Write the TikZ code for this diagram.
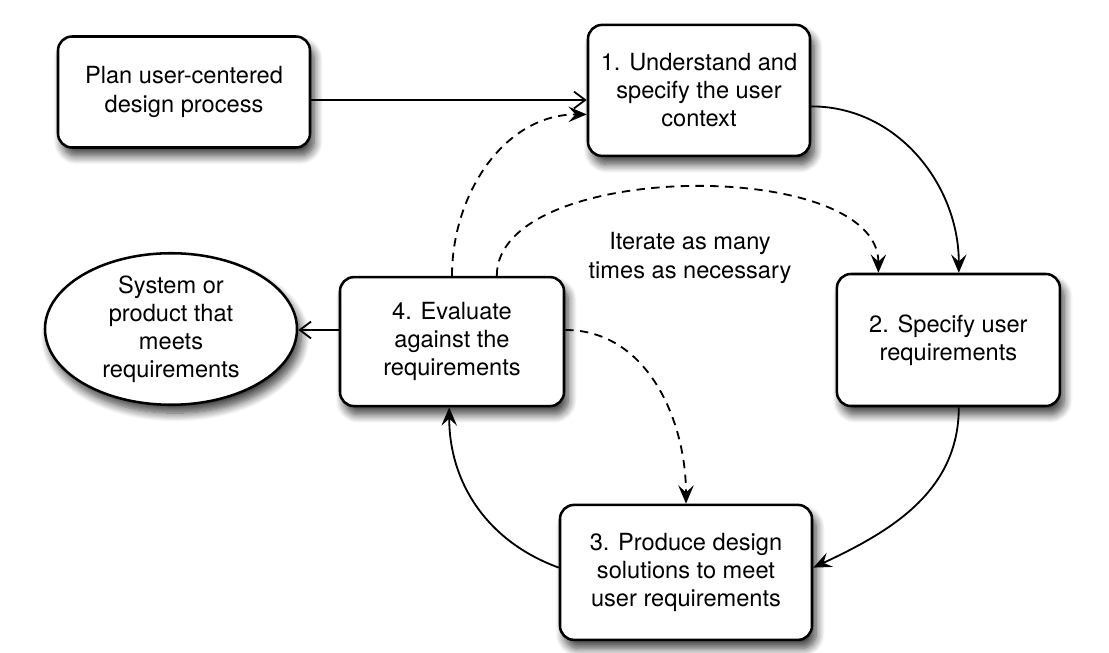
\documentclass[tikz,border=0pt]{standalone}
\usepackage{fontspec}
\setmainfont{TeX Gyre Heros}
\usepackage{tikz}
\usetikzlibrary{arrows.meta, positioning, shapes.geometric, shadows.blur}

\begin{document}
\begin{tikzpicture}[
    stage/.style={draw=black, fill=white, line width=1.8pt, rounded corners=10pt,
                  align=center, font=\fontsize{16.8}{20}\selectfont,
                  blur shadow={shadow xshift=3pt, shadow yshift=-6pt, shadow blur steps=10,
                               shadow blur radius=6pt, shadow opacity=75}},
    goal/.style={ellipse, draw=black, fill=white, line width=1.8pt, inner sep=0pt,
                 align=center, font=\fontsize{16.8}{20}\selectfont,
                 blur shadow={shadow xshift=3pt, shadow yshift=-6pt, shadow blur steps=10,
                              shadow blur radius=6pt, shadow opacity=75}},
    flow/.style={-{Straight Barb[length=8pt, width=12pt, line width=1.3pt]}, line width=1.3pt},
    cycle/.style={-{Stealth[length=13pt, width=11pt, inset=5pt]}, line width=1.3pt},
    again/.style={-{Stealth[length=13pt, width=11pt, inset=5pt]}, line width=1.3pt,
                  dash pattern=on 6pt off 4.5pt},
]
    \useasboundingbox (0,0) rectangle (27.725,16.3);

    % Boxes
    \node[stage, minimum width=6.3cm, minimum height=2.775cm] (plan) at (4.6, 14.0)
        {Plan user-centered\\design process};
    \node[stage, minimum width=5.55cm, minimum height=3.275cm] (context) at (17.475, 14.04)
        {1. Understand and\\specify the user\\context};
    \node[stage, minimum width=5.575cm, minimum height=3.3cm] (reqs) at (23.71, 7.8)
        {2. Specify user\\requirements};
    \node[stage, minimum width=6.3cm, minimum height=3.375cm] (design) at (17.15, 1.99)
        {3. Produce design\\solutions to meet\\user requirements};
    \node[stage, minimum width=5.6cm, minimum height=3.225cm] (eval) at (11.3, 7.76)
        {4. Evaluate\\against the\\requirements};
    \node[goal, minimum width=6.3cm, minimum height=3.3cm] (product) at (4.275, 8.075)
        {System or\\product that\\meets\\requirements};

    % Label
    \node[align=center, font=\fontsize{16.8}{20}\selectfont] (iterate) at (17.25, 9.85)
        {Iterate as many\\times as necessary};

    % Main cycle
    \draw[flow] ([yshift=-0.2cm]plan.east) -- ([yshift=-0.2cm]plan.east -| context.west);
    \draw[cycle] ([yshift=-0.4cm]context.east) to[out=0, in=90] ([xshift=0.26cm]reqs.north);
    \draw[cycle] ([xshift=0.26cm]reqs.south) to[out=-90, in=25] ([yshift=0.12cm]design.east);
    \draw[cycle] ([yshift=0.12cm]design.west) to[out=160, in=-90] ([xshift=-0.07cm]eval.south);
    \draw[flow] ([yshift=0.29cm]eval.west) -- ([yshift=0.29cm]eval.west -| product.east);

    % Iterations
    \draw[again] (eval.north) to[out=90, in=180] ([yshift=-0.6cm]context.west);
    \draw[again] ([xshift=1.12cm]eval.north) .. controls +(0,2.9) and +(0,2.9) .. ([xshift=-1.75cm]reqs.north);
    \draw[again] ([yshift=0.29cm]eval.east) to[out=0, in=90] (design.north);
\end{tikzpicture}
\end{document}
